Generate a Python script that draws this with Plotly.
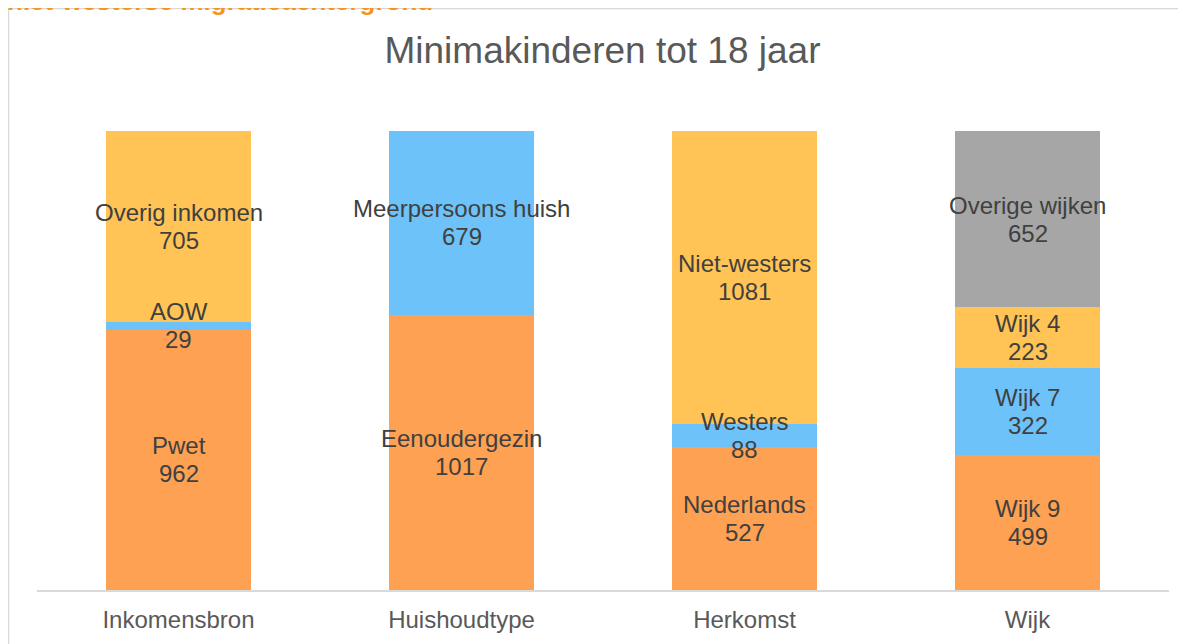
import plotly.graph_objects as go

categories = ["Inkomensbron", "Huishoudtype", "Herkomst", "Wijk"]

inkomen_labels = ["Pwet", "AOW", "Overig inkomen"]
inkomen_values = [962, 29, 705]
huishouden_labels = ["Eenoudergezin", "Meerpersoons huish"]
huishouden_values = [1017, 679]
herkomst_labels = ["Nederlands", "Westers", "Niet-westers"]
herkomst_values = [527, 88, 1081]
wijk_labels = ["Wijk 9", "Wijk 7", "Wijk 4", "Overige wijken"]
wijk_values = [499, 322, 223, 652]

segment_colors = ["#FFA152", "#6EC2FA", "#FFC455", "#A6A6A6"]

groups = [
    (categories[0], inkomen_labels, inkomen_values),
    (categories[1], huishouden_labels, huishouden_values),
    (categories[2], herkomst_labels, herkomst_values),
    (categories[3], wijk_labels, wijk_values),
]

# page has an 8px body margin; figure sized to fit the window
OFF = 8
W, H = 1178, 636
L, R, T, B = 29, 17, 123, 54
pw, ph = W - L - R, H - T - B


def px(x_page):
    return (x_page - OFF - L) / pw


def py(y_page):
    return (H - B - (y_page - OFF)) / ph


FONT = "Liberation Sans, Arial"
fig = go.Figure()
annotations = []
total_max = 0
for cat, labels, values in groups:
    base = 0
    for i, (lab, val) in enumerate(zip(labels, values)):
        fig.add_trace(go.Bar(
            x=[cat], y=[val], name=lab,
            marker=dict(color=segment_colors[i], line=dict(width=0)),
            width=0.512, showlegend=False, hoverinfo="name+y",
        ))
        for txt, shift in ((lab, 14), (str(val), -14)):
            annotations.append(dict(
                x=cat, y=base + val / 2, xref="x", yref="y",
                text=txt, showarrow=False, yshift=shift,
                font=dict(family=FONT, size=24, color="#404040"),
                align="center",
            ))
        base += val
    total_max = max(total_max, base)

annotations.append(dict(
    x=px(5), y=py(18), xref="paper", yref="paper",
    xanchor="left", yanchor="bottom", showarrow=False,
    text="<b>niet-westerse migratieachtergrond</b>",
    font=dict(family=FONT, size=26, color="#F7941E"),
))

fig.update_layout(
    width=W, height=H,
    margin=dict(l=L, r=R, t=T, b=B),
    barmode="stack", bargap=0.488,
    paper_bgcolor="white", plot_bgcolor="white",
    title=dict(
        text="Minimakinderen tot 18 jaar",
        x=(602.5 - OFF) / W, xanchor="center", y=1 - (50 - OFF) / H, yanchor="middle",
        font=dict(family=FONT, size=37, color="#595959"),
    ),
    xaxis=dict(
        showline=True, linecolor="#D9D9D9", linewidth=1.5,
        showgrid=False, ticks="", ticklabelstandoff=7,
        tickfont=dict(family=FONT, size=24, color="#595959"),
    ),
    yaxis=dict(visible=False, range=[0, total_max], showgrid=False),
    annotations=annotations,
    shapes=[dict(
        type="rect", xref="paper", yref="paper",
        x0=px(8.5), x1=px(1300), y0=py(800), y1=py(8.5),
        line=dict(color="#D9D9D9", width=1.5), fillcolor="rgba(0,0,0,0)",
        layer="below",
    )],
)

fig.write_html("out.html")
